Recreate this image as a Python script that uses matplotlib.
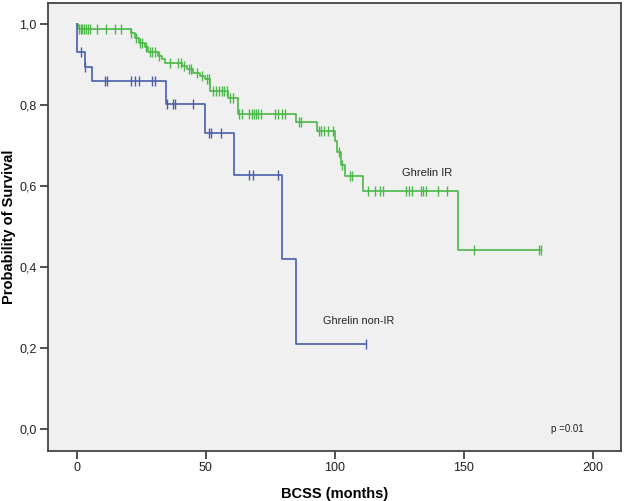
import numpy as np
import matplotlib
matplotlib.use("Agg")
import matplotlib.pyplot as plt

plt.rcParams['font.family'] = ['Liberation Sans', 'DejaVu Sans']

# Ghrelin IR: step times and survival after each step
ir_times = [0, 0.5, 21, 22.5, 24, 26.4, 27.7, 31.6, 32.9, 34.2, 40.7, 42.6, 45.2,
            47.8, 49.7, 51.7, 58.8, 62.6, 85.1, 93.1, 100, 100.9, 102.6, 103.9,
            111, 148]
ir_surv = [1.0, 0.988, 0.978, 0.966, 0.955, 0.943, 0.932, 0.922, 0.914, 0.905,
           0.897, 0.889, 0.881, 0.872, 0.864, 0.835, 0.819, 0.779, 0.760, 0.737,
           0.712, 0.685, 0.654, 0.625, 0.588, 0.442]
ir_end = 180
ir_censor = [0.8, 1.5, 2.2, 3, 3.8, 4.5, 5.3, 8, 11.4, 14.7, 17.3, 21, 23, 24.5,
             25.5, 26.8, 28.3, 29.4, 30.3, 32, 36.2, 39.4, 40.4, 41.5, 43.5, 44.5,
             46.8, 48.5, 50.5, 51.2, 53, 54.2, 55.2, 56.2, 57.2, 58.4, 59.5, 60.8,
             63, 64, 66.9, 67.8, 68.6, 69.5, 70.4, 71.4, 77, 78, 79.5, 80.8, 86,
             87, 93.8, 94.9, 95.9, 97.3, 99.3, 101.7, 103, 105.9, 106.9, 112.9,
             115.5, 117.4, 118.7, 127.7, 129, 130, 133.3, 134.4, 135.3, 140,
             143.4, 154, 179.2, 180]

# Ghrelin non-IR
non_times = [0, 0.2, 3.1, 6.1, 34.8, 49.9, 60.9, 79.7, 84.9]
non_surv = [1.0, 0.932, 0.895, 0.86, 0.804, 0.731, 0.628, 0.42, 0.21]
non_end = 112.3
non_censor = [1.8, 3.1, 10.9, 11.8, 20.9, 22.5, 24.2, 29.3, 30.3, 35, 37.4, 38.3,
              45.2, 51.2, 52.2, 55.8, 67, 68.3, 78, 112.3]

green = '#4cb849'
blue = '#4a5eab'


def km_curve(ax, times, surv, end, censor, color):
    t = np.array(times + [end])
    s = np.array(surv + [surv[-1]])
    ax.step(t, s, where='post', color=color, lw=1.2)
    c = np.array(censor)
    idx = np.searchsorted(np.array(times), c, side='right') - 1
    cs = np.array(surv)[idx]
    ax.plot(c, cs, ls='none', marker='|', ms=6.5, mew=1.0, color=color)


fig = plt.figure(figsize=(6.25, 5.01), dpi=100)
ax = fig.add_axes([0.0768, 0.0992, 0.9168, 0.8958])
ax.set_facecolor('#f0f0f0')

km_curve(ax, ir_times, ir_surv, ir_end, ir_censor, green)
km_curve(ax, non_times, non_surv, non_end, non_censor, blue)

ax.text(135.7, 0.633, 'Ghrelin IR', fontsize=8, ha='center', va='center', color='#222222')
ax.text(109.3, 0.268, 'Ghrelin non-IR', fontsize=7.8, ha='center', va='center', color='#222222')
ax.text(190, 0.0, 'p =0.01', fontsize=7, ha='center', va='center', color='#222222')

ax.set_xlim(-11.1, 211)
ax.set_ylim(-0.054, 1.054)
ax.set_xticks([0, 50, 100, 150, 200])
ax.set_yticks([0, 0.2, 0.4, 0.6, 0.8, 1.0])
ax.set_yticklabels(['0,0', '0,2', '0,4', '0,6', '0,8', '1,0'])
ax.tick_params(axis='both', direction='out', length=6, width=1.2, labelsize=9,
               color='#333333', labelcolor='#222222', pad=2)
for sp in ax.spines.values():
    sp.set_color('#444444')
    sp.set_linewidth(1.3)

ax.set_xlabel('BCSS (months)', fontsize=10.5, fontweight='bold', va='center')
ax.xaxis.set_label_coords(0.5, -0.095)
ax.set_ylabel('Probability of Survival', fontsize=10.5, fontweight='bold', va='center')
ax.yaxis.set_label_coords(-0.068, 0.5)

fig.savefig('out.png', dpi=100)
